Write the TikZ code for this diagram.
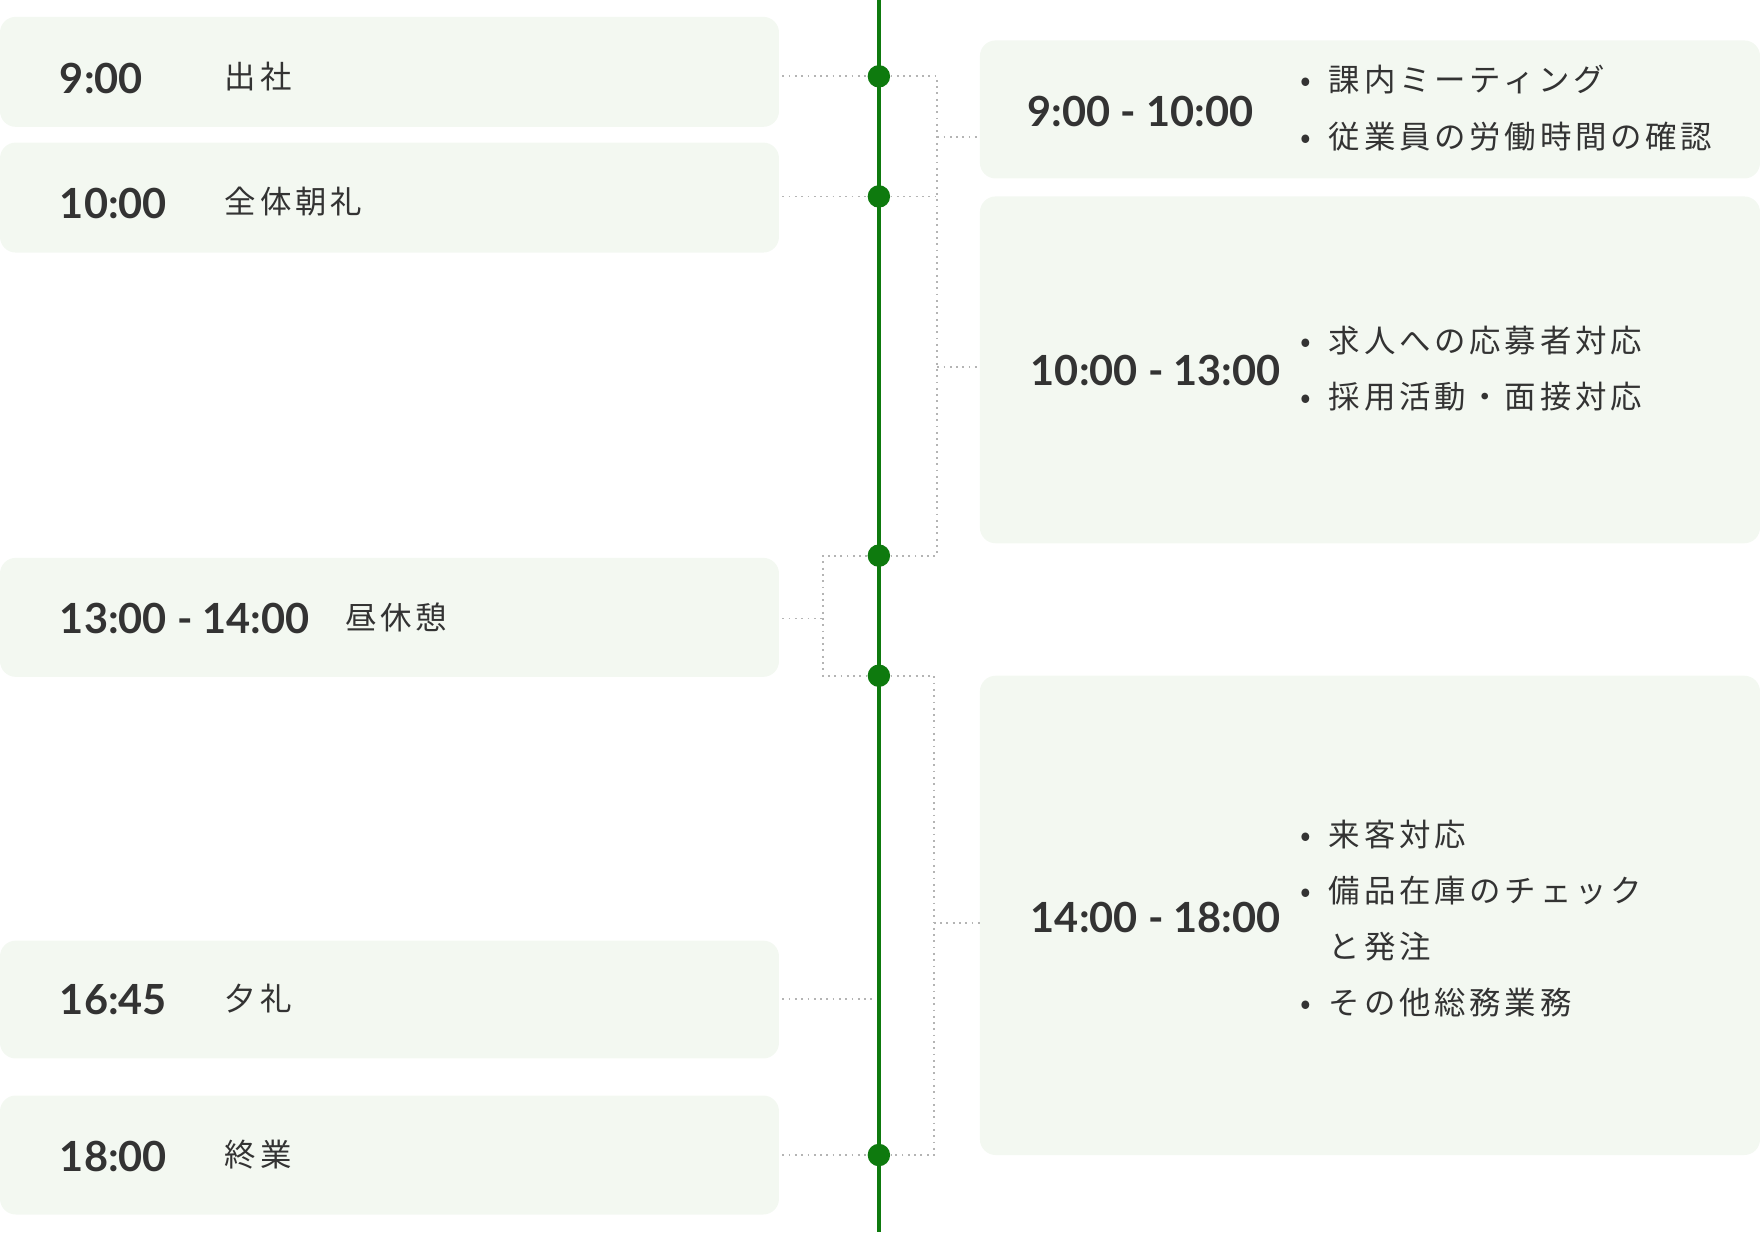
\documentclass[tikz,border=0pt]{standalone}
\usepackage{fontspec}
\setmainfont{Noto Sans CJK JP}
\newfontfamily\jpfont[LetterSpace=12]{Noto Sans CJK JP}
\newfontfamily\timefont{Lato}
\usetikzlibrary{positioning}
\definecolor{boxfill}{HTML}{F3F8F1}
\definecolor{linegreen}{HTML}{0E7A0E}
\definecolor{txt}{HTML}{333333}
\definecolor{dotgray}{HTML}{B4B4B4}

\begin{document}
\begin{tikzpicture}[x=0.5pt,y=-0.5pt]
    \tikzset{slot/.style = {fill=boxfill,rounded corners=7pt}}
    \tikzset{time/.style = {anchor=west,text=txt,font=\fontsize{18.5}{20}\selectfont\timefont\bfseries,inner sep=0}}
    \tikzset{task/.style = {anchor=west,text=txt,font=\fontsize{14}{16}\selectfont\jpfont,inner sep=0}}
    \tikzset{item/.style = {anchor=north west,text=txt,font=\fontsize{14}{25}\selectfont\jpfont,inner sep=0,align=left}}
    \tikzset{stop/.style = {circle,fill=linegreen,minimum size=10pt,inner sep=0}}
    \tikzset{link/.style = {dotgray,dotted,line width=0.8pt}}
    \useasboundingbox (0,0) rectangle (1568,1098);

    % left boxes
    \fill[slot] (0,15) rectangle (694,113);
    \fill[slot] (0,127) rectangle (694,225);
    \fill[slot] (0,497) rectangle (694,603);
    \fill[slot] (0,838) rectangle (694,943);
    \fill[slot] (0,976) rectangle (694,1082);
    % right boxes
    \fill[slot] (873,36) rectangle (1568,159);
    \fill[slot] (873,175) rectangle (1568,484);
    \fill[slot] (873,602) rectangle (1568,1029);

    % timeline
    \draw[linegreen,line width=1.5pt] (783,0) coordinate (top) -- (783,1098) coordinate (bottom);
    \node[stop] (s1) at (783,68)   {};
    \node[stop] (s2) at (783,175)  {};
    \node[stop] (s3) at (783,495)  {};
    \node[stop] (s4) at (783,602)  {};
    \node[stop] (s5) at (783,1029) {};

    % left texts
    \node[time] (t1) at (53,70)   {9:00};
    \node[task] (a1) at (200,68)  {出社};
    \node[time] (t2) at (53,181)  {10:00};
    \node[task] (a2) at (200,180) {全体朝礼};
    \node[time] (t3) at (53,551)  {13:00 - 14:00};
    \node[task] (a3) at (307,550) {昼休憩};
    \node[time] (t4) at (53,891)  {16:45};
    \node[task] (a4) at (200,890) {夕礼};
    \node[time] (t5) at (53,1030) {18:00};
    \node[task] (a5) at (200,1029) {終業};

    % right texts
    \node[time] (r1) at (915,99)  {9:00 - 10:00};
    \node[item] (b1) at (1158,58) {•\hspace{8pt}課内ミーティング\\•\hspace{8pt}従業員の労働時間の確認};
    \node[time] (r2) at (918,330) {10:00 - 13:00};
    \node[item] (b2) at (1158,290) {•\hspace{8pt}求人への応募者対応\\•\hspace{8pt}採用活動・面接対応};
    \node[time] (r3) at (918,817) {14:00 - 18:00};
    \node[item] (b3) at (1158,730) {•\hspace{8pt}来客対応\\•\hspace{8pt}備品在庫のチェック\\\phantom{•}\hspace{8pt}と発注\\•\hspace{8pt}その他総務業務};

    % connectors
    \coordinate (e1) at (697,68);   \coordinate (e2) at (697,175);
    \coordinate (e3) at (697,551);  \coordinate (e4) at (697,890);
    \coordinate (e5) at (697,1029); \coordinate (f4) at (778,890);
    \draw[link] (e1) -- (s1);
    \draw[link] (e2) -- (s2);
    \draw[link] (e4) -- (f4);
    \draw[link] (e5) -- (s5);
    \draw[link] (s1) -- (835,68) -- (835,495) -- (s3);
    \draw[link] (s2) -- (835,175);
    \draw[link] (835,122) -- (873,122);
    \draw[link] (835,327) -- (873,327);
    \draw[link] (s3) -- (733,495) -- (733,602) -- (s4);
    \draw[link] (e3) -- (733,551);
    \draw[link] (s4) -- (832,602) -- (832,1029) -- (s5);
    \draw[link] (832,822) -- (873,822);
\end{tikzpicture}
\end{document}
